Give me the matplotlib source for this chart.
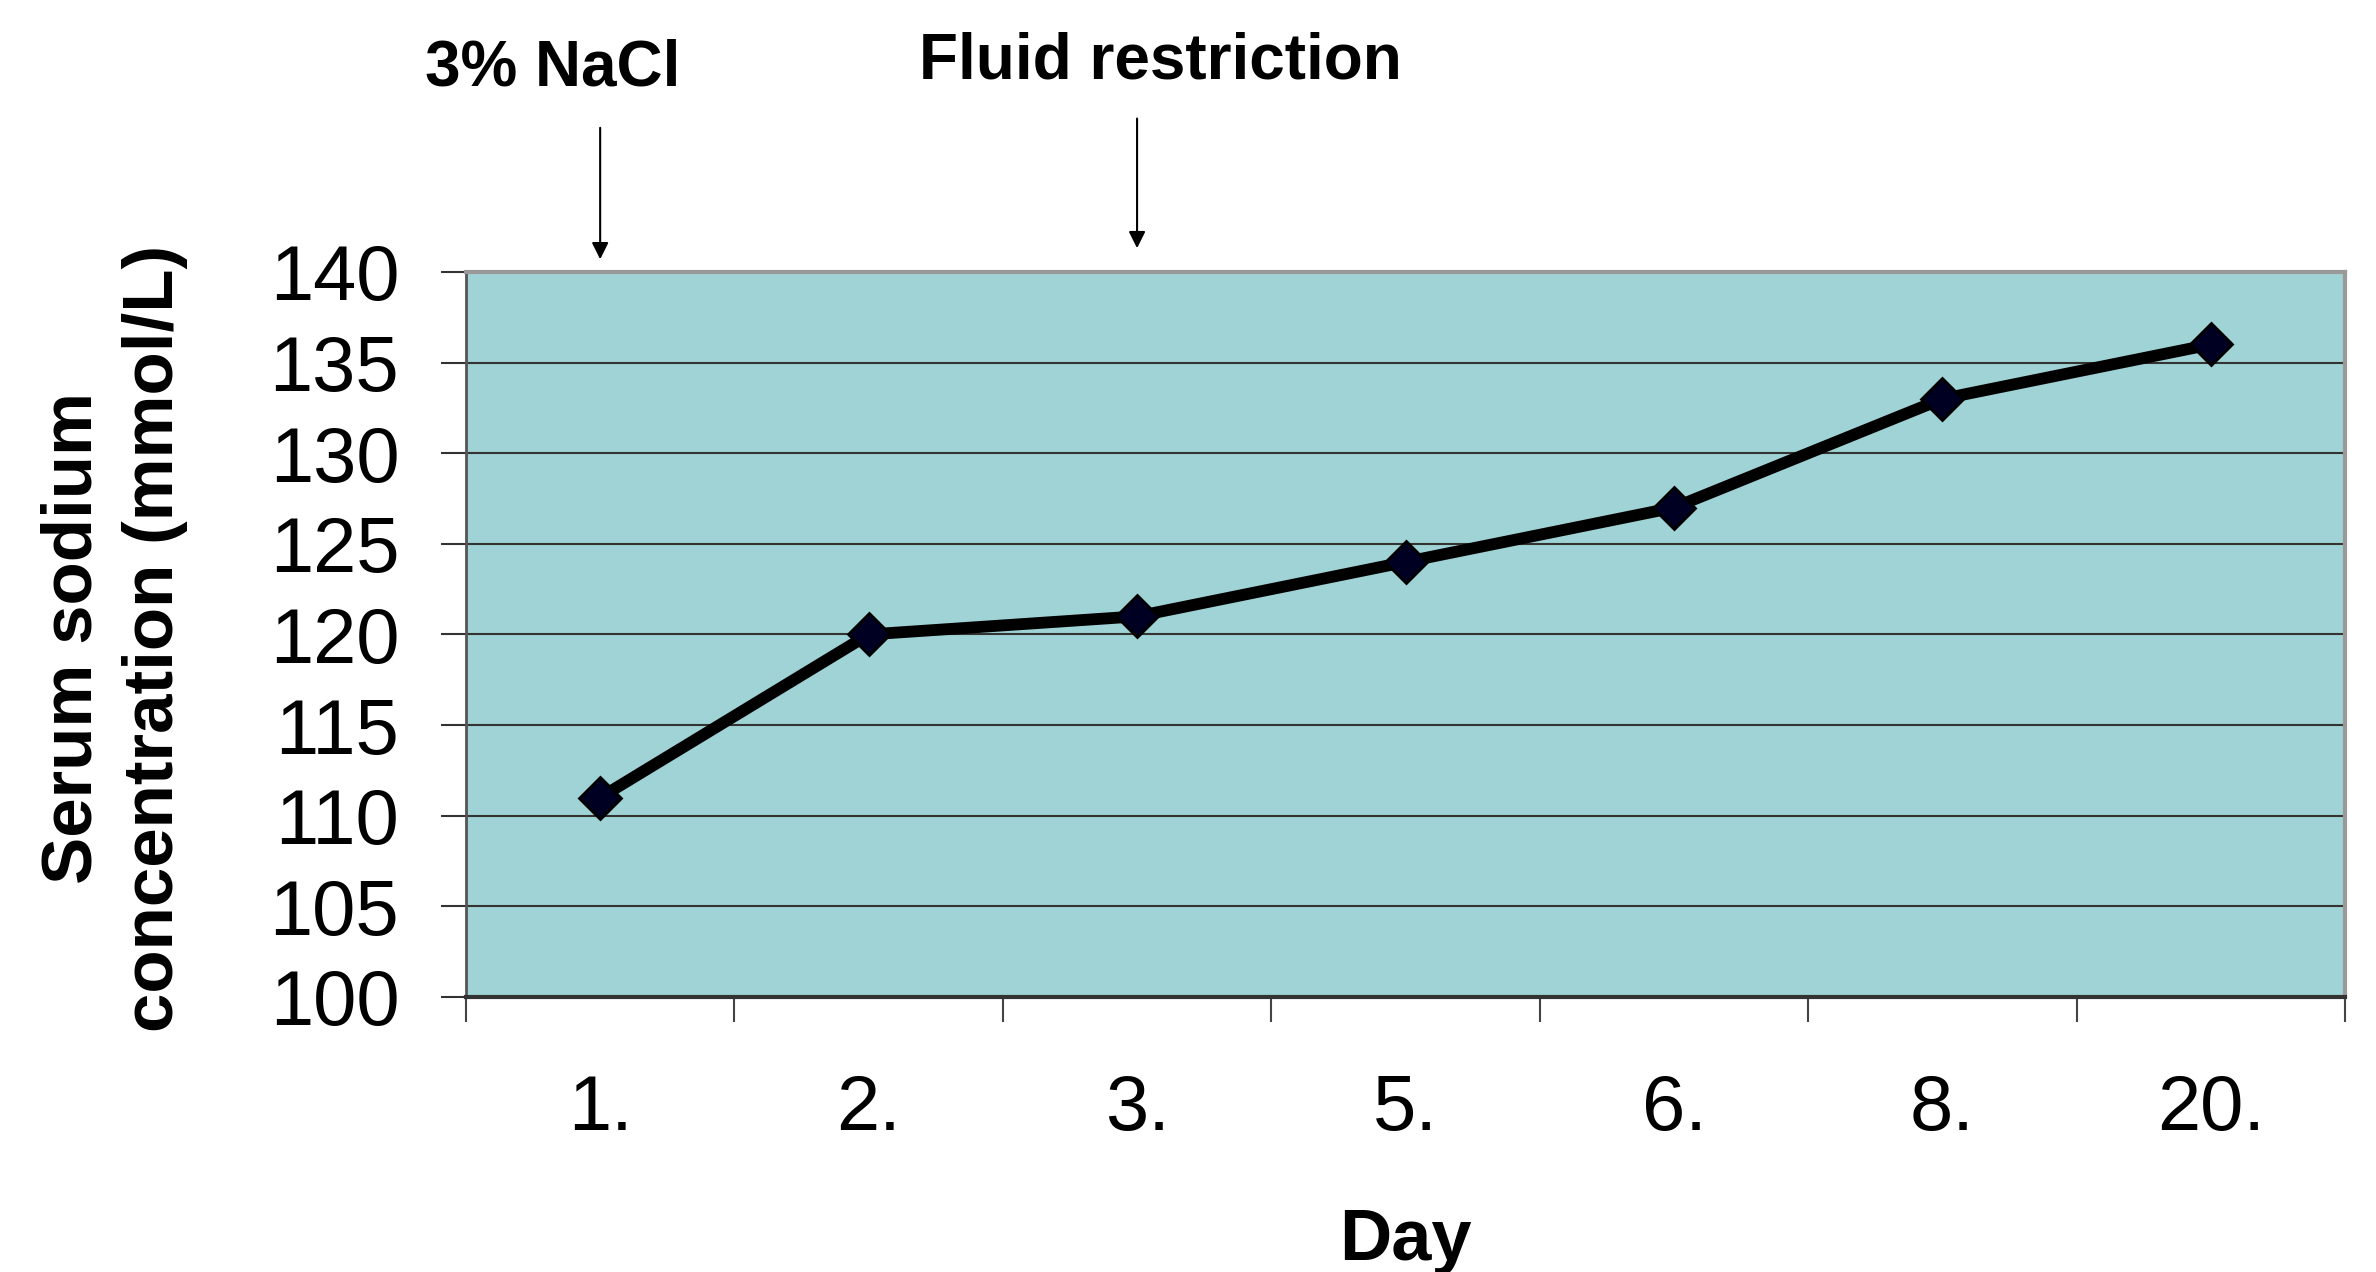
import matplotlib
matplotlib.use('Agg')
import matplotlib.pyplot as plt
from matplotlib.ticker import FixedLocator, NullFormatter

plt.rcParams['font.family'] = ['Liberation Sans', 'DejaVu Sans']

# data
days = ['1.', '2.', '3.', '5.', '6.', '8.', '20.']
sodium = [111, 120, 121, 124, 127, 133, 136]
event_labels = ['3% NaCl', 'Fluid restriction']
event_days = ['1.', '3.']
y_ticks = [100, 105, 110, 115, 120, 125, 130, 135, 140]

fig = plt.figure(figsize=(23.76, 12.72), dpi=100)
ax = fig.add_axes([0.1961, 0.2162, 0.7909, 0.5700])
ax.set_facecolor('#9fd3d6')

x = list(range(len(days)))
ax.plot(x, sodium, color='black', linewidth=8.5, marker='D', markersize=21,
        markerfacecolor='#000022', markeredgecolor='black', markeredgewidth=2, zorder=3)

ax.set_xlim(-0.5, len(days) - 0.5)
ax.set_ylim(100, 140)
ax.set_yticks(y_ticks)
ax.yaxis.grid(True, color='#333333', linewidth=1.5)
ax.set_axisbelow(True)

# category labels at centres, tick marks at category boundaries
ax.set_xticks(x)
ax.set_xticklabels(days)
ax.xaxis.set_minor_locator(FixedLocator([i - 0.5 for i in range(len(days) + 1)]))
ax.xaxis.set_minor_formatter(NullFormatter())
ax.tick_params(axis='x', which='major', length=0, pad=55, labelsize=56)
ax.tick_params(axis='x', which='minor', length=18, width=1.5, color='#444444', direction='out')
ax.tick_params(axis='y', which='major', length=18, width=1.5, color='#333333', pad=30, labelsize=56)

for side in ['top', 'right']:
    ax.spines[side].set_color('#999999')
    ax.spines[side].set_linewidth(3)
ax.spines['left'].set_color('#555555')
ax.spines['left'].set_linewidth(2)
ax.spines['bottom'].set_color('#333333')
ax.spines['bottom'].set_linewidth(3)

fig.text(0.048, 0.4984, 'Serum sodium\nconcentration (mmol/L)', rotation=90,
         ha='center', va='center', multialignment='center', fontsize=51,
         fontweight='bold', linespacing=1.3)
fig.text(0.5916, 0.0244, 'Day', ha='center', va='center', fontsize=52, fontweight='bold')

# treatment annotations with arrows
text_pos = [(0.2327, 0.946), (0.4882, 0.952)]
arrow_top = [0.9017, 0.909]
arrow_bottom = [0.794, 0.8027]
for label, day, (tx, ty), top, bot in zip(event_labels, event_days, text_pos, arrow_top, arrow_bottom):
    xi = days.index(day)
    fig.text(tx, ty, label, ha='center', va='center', fontsize=46, fontweight='bold')
    ax.annotate('', xy=(xi, bot), xycoords=('data', 'figure fraction'),
                xytext=(xi, top), textcoords=('data', 'figure fraction'),
                arrowprops=dict(arrowstyle='-|>', color='black', lw=1.5, mutation_scale=25),
                annotation_clip=False)

fig.savefig('out.png', dpi=100)
